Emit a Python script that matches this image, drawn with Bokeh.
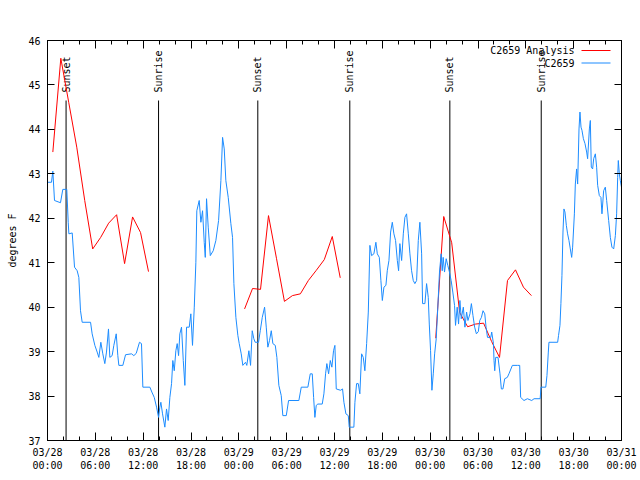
import math
from bokeh.plotting import figure
from bokeh.models import FixedTicker, LinearAxis, Label, BoxAnnotation, Range1d
from bokeh.embed import file_html
from bokeh.resources import INLINE
from bokeh.core.properties import value

FONT = "DejaVu Sans Mono"
NAN = float("nan")

# ---- data (hours since 2024-03-28 00:00 UTC) ----
obs_hours = [0.0, 0.5, 0.67, 0.88, 1.63, 1.92, 2.42, 2.60, 2.68, 3.10, 3.39, 3.72, 3.93, 4.14, 4.35, 5.40,
             5.60, 5.94, 6.23, 6.44, 6.69, 6.94, 7.19, 7.40, 7.65, 7.82, 8.11, 8.32, 8.62, 8.82, 8.95, 9.45,
             9.79, 10.54, 10.83, 11.13, 11.54, 11.79, 11.96, 12.84, 13.09, 13.39, 13.68, 13.93, 14.09, 14.22,
             14.43, 14.72, 14.93, 15.14, 15.35, 15.56, 15.72, 15.90, 16.10, 16.27, 16.44, 16.60, 16.81, 17.03,
             17.23, 17.44, 17.78, 17.98, 18.19, 18.41, 18.61, 18.73, 19.03, 19.24, 19.45, 19.66, 19.79, 19.95,
             20.16, 20.42, 20.79, 21.12, 21.46, 21.75, 21.96, 22.17, 22.37, 22.67, 23.00, 23.21, 23.38, 23.63,
             23.88, 24.05, 24.30, 24.50, 24.84, 25.00, 25.26, 25.47, 25.68, 25.88, 26.05, 26.47, 26.69, 26.94,
             27.23, 27.44, 27.64, 27.85, 28.07, 28.27, 28.57, 28.77, 29.02, 29.32, 29.52, 29.95, 30.24, 31.53,
             31.83, 32.66, 32.96, 33.21, 33.38, 33.54, 33.71, 33.91, 34.46, 34.67, 34.88, 35.04, 35.26, 35.47,
             35.67, 35.88, 36.05, 36.22, 36.76, 37.01, 37.18, 37.43, 37.73, 37.85, 38.43, 38.56, 38.77, 38.98,
             39.18, 39.40, 39.61, 39.81, 40.03, 40.24, 40.44, 40.65, 40.94, 41.19, 41.37, 41.62, 41.82, 42.00,
             42.20, 42.45, 42.62, 42.83, 43.04, 43.25, 43.45, 43.66, 43.88, 44.04, 44.20, 44.42, 44.63, 44.83,
             45.04, 45.26, 45.46, 45.67, 45.88, 46.08, 46.30, 46.51, 46.71, 46.93, 47.05, 47.34, 47.55, 47.76,
             47.89, 48.05, 48.22, 48.39, 48.56, 48.76, 48.96, 49.17, 49.38, 49.51, 49.63, 49.80, 50.01, 50.21,
             50.42, 50.63, 50.84, 51.06, 51.18, 51.39, 51.56, 51.73, 51.90, 52.16, 52.36, 52.57, 52.74, 52.99,
             53.17, 53.37, 53.58, 53.80, 54.04, 54.22, 54.43, 54.63, 54.85, 55.01, 55.19, 55.60, 55.72, 55.94,
             56.01, 56.10, 56.22, 56.51, 56.76, 56.93, 57.13, 57.35, 57.68, 57.88, 58.31, 58.94, 59.23, 59.35,
             59.77, 60.19, 60.74, 61.03, 61.80, 61.90, 62.50, 62.65, 62.82, 62.90, 63.99, 64.10, 64.28, 64.40,
             64.53, 64.66, 64.78, 64.91, 65.08, 65.24, 65.41, 65.58, 65.75, 65.87, 66.09, 66.21, 66.37, 66.50,
             66.67, 66.79, 66.92, 67.04, 67.22, 67.42, 67.63, 67.75, 67.97, 68.09, 68.21, 68.38, 68.51, 68.72,
             68.88, 69.01, 69.22, 69.42, 69.55, 69.76, 69.97, 70.14, 70.39, 70.60, 70.80, 71.02, 71.23, 71.39,
             71.52, 71.60, 71.73, 71.85, 72.0]
obs_dewpt = [42.81, 42.81, 43.06, 42.40, 42.35, 42.65, 42.65, 41.91, 41.65, 41.67, 40.90, 40.82, 40.67, 39.92, 39.66, 39.66,
             39.40, 39.14, 38.99, 38.87, 39.21, 38.95, 38.73, 38.99, 39.51, 38.87, 38.91, 39.14, 39.40, 38.91, 38.69, 38.69,
             38.93, 38.95, 38.91, 38.96, 39.21, 39.18, 38.20, 38.20, 38.09, 37.97, 37.75, 37.52, 37.75, 37.86,
             37.60, 37.30, 37.71, 37.45, 37.97, 38.28, 38.80, 38.57, 39.02, 39.18, 38.91, 39.40, 39.55, 38.80,
             38.24, 39.55, 39.55, 39.85, 39.14, 40.00, 41.01, 42.17, 42.40, 41.91, 42.17, 41.46, 41.12, 42.44,
             41.80, 41.16, 41.27, 41.50, 41.95, 42.85, 43.82, 43.56, 42.85, 42.47, 41.88, 41.57, 40.53, 39.77,
             39.36, 39.18, 38.95, 38.69, 38.76, 38.69, 39.02, 38.69, 39.47, 39.29, 39.21, 39.21, 39.47, 39.77,
             40.00, 39.55, 39.10, 39.25, 39.47, 39.18, 39.14, 38.87, 38.24, 38.01, 37.56, 37.56, 37.90, 37.90,
             38.20, 38.20, 38.50, 38.50, 37.97, 37.52, 37.79, 37.82, 37.82, 38.05, 38.50, 38.73, 38.50, 38.80,
             38.65, 39.02, 39.14, 38.16, 38.13, 38.16, 37.86, 37.60, 37.56, 37.30, 37.30, 37.86, 38.28, 38.28,
             38.05, 38.95, 38.87, 38.57, 39.18, 39.89, 41.39, 41.16, 41.20, 41.46, 41.20, 41.12, 40.60, 40.15,
             40.45, 40.49, 40.82, 41.05, 41.69, 41.91, 41.65, 41.50, 41.05, 40.82, 41.43, 41.05, 41.65, 42.02,
             42.10, 41.65, 41.20, 40.82, 40.60, 40.53, 40.60, 41.50, 41.91, 41.20, 40.08, 40.08, 40.53, 40.22,
             39.62, 39.02, 38.13, 38.50, 38.95, 39.29, 40.00, 40.79, 41.20, 40.82, 41.12, 40.79, 41.09, 40.94,
             40.79, 40.60, 40.34, 40.04, 39.59, 40.00, 39.62, 40.15, 39.74, 40.00, 39.55, 39.89, 39.70, 39.85,
             40.08, 39.81, 39.55, 39.40, 39.45, 39.70, 39.77, 39.92, 39.85, 39.55, 39.32, 39.32, 39.44, 39.18,
             38.80, 38.57, 38.87, 38.87, 38.50, 38.16, 38.16, 38.39, 38.42, 38.50, 38.69, 38.69, 38.69, 37.97,
             37.90, 37.94, 37.90, 37.94, 37.94, 38.20, 38.20, 38.46, 38.99, 39.21, 39.21, 39.36, 39.59, 40.08,
             40.71, 41.69, 42.21, 42.14, 41.84, 41.65, 41.50, 41.31, 41.12, 41.35, 42.10, 42.77, 43.11, 42.77,
             44.01, 44.39, 44.05, 43.98, 43.79, 43.68, 43.49, 43.34, 44.01, 44.20, 43.15, 43.11, 43.34, 43.45,
             43.15, 42.74, 42.51, 42.47, 42.10, 42.62, 42.70, 42.40, 41.95, 41.57, 41.35, 41.31, 41.61, 42.10,
             42.92, 43.30, 43.00, 42.85, 42.70]

ana_hours = [0.67, 1.67, 2.67, 3.67, 4.67, 5.67, 6.67, 7.67, 8.67, 9.67, 10.67, 11.67, 12.67, NAN,
             24.72, 25.72, 26.72, 27.72, 28.72, 29.72, 30.72, 31.72, 32.72, 33.72, 34.72, 35.72, 36.72, NAN,
             48.70, 49.70, 50.70, 51.70, 52.70, 53.70, 54.70, 55.70, 56.70, 57.70, 58.70, 59.70, 60.70]
ana_dewpt = [43.49, 45.60, 44.60, 43.60, 42.40, 41.31, 41.57, 41.89, 42.08, 40.98, 42.03, 41.68, 40.80, NAN,
             39.96, 40.42, 40.40, 42.06, 41.10, 40.13, 40.26, 40.30, 40.60, 40.83, 41.07, 41.59, 40.66, NAN,
             39.30, 42.04, 41.45, 39.88, 39.56, 39.62, 39.64, 39.23, 38.87, 40.60, 40.84, 40.45, 40.26]

sun_hours = [2.33, 13.93, 26.38, 37.92, 50.47, 61.93]
sun_names = ["Sunset", "Sunrise", "Sunset", "Sunrise", "Sunset", "Sunrise"]

tick_hours = [0, 6, 12, 18, 24, 30, 36, 42, 48, 54, 60, 66, 72]
tick_labels = ["03/28\n00:00", "03/28\n06:00", "03/28\n12:00", "03/28\n18:00",
               "03/29\n00:00", "03/29\n06:00", "03/29\n12:00", "03/29\n18:00",
               "03/30\n00:00", "03/30\n06:00", "03/30\n12:00", "03/30\n18:00",
               "03/31\n00:00"]
minor_hours = list(range(0, 73, 2))
y_ticks = [37, 38, 39, 40, 41, 42, 43, 44, 45, 46]

title_text = "Dew Point for C2659 on 2024-Mar-28 (time in UTC)"
ylabel_text = "degrees F"
series_names = ["C2659 Analysis", "C2659"]
RED = "#ff0000"
BLUE = "#1c8cff"

# ---- figure ----
p = figure(frame_width=574, frame_height=400, output_backend="svg", toolbar_location=None,
           x_range=Range1d(0, 72), y_range=Range1d(37, 46),
           min_border_left=47, min_border_right=19, min_border_top=40, min_border_bottom=40)
p.xgrid.visible = False
p.ygrid.visible = False
p.outline_line_color = "black"
p.outline_line_width = 1
p.background_fill_color = "white"
p.border_fill_color = "white"

xt = FixedTicker(ticks=tick_hours, minor_ticks=minor_hours)
yt = FixedTicker(ticks=y_ticks, minor_ticks=[])

def style_axis(ax, labels=True):
    ax.axis_line_color = "black"
    ax.major_tick_line_color = "black"
    ax.minor_tick_line_color = "black"
    ax.major_tick_out = 0
    ax.minor_tick_out = 0
    ax.major_label_text_font = FONT
    ax.major_label_text_color = "black"
    ax.major_label_text_font_size = "10px"
    if not labels:
        ax.major_label_overrides = {t: "" for t in ax.ticker.ticks}
        ax.major_label_standoff = 0

xa = p.xaxis[0]
xa.ticker = xt
xa.major_label_overrides = {h: l for h, l in zip(tick_hours, tick_labels)}
style_axis(xa)
xa.major_tick_in = 8
xa.minor_tick_in = 4
xa.major_label_standoff = 6

ya = p.yaxis[0]
ya.ticker = yt
style_axis(ya)
ya.major_tick_in = 7
ya.minor_tick_in = 0
ya.major_label_standoff = 7
ya.axis_label = ylabel_text
ya.axis_label_text_font = FONT
ya.axis_label_text_font_size = "10px"
ya.axis_label_text_font_style = "normal"
ya.axis_label_text_color = "black"
ya.axis_label_standoff = 7

top = LinearAxis(ticker=xt)
style_axis(top, labels=False)
top.major_tick_in = 8
top.minor_tick_in = 4
p.add_layout(top, "above")

right = LinearAxis(ticker=yt)
style_axis(right, labels=False)
right.major_tick_in = 7
right.minor_tick_in = 0
p.add_layout(right, "right")

# sunrise / sunset markers
p.segment(x0=sun_hours, y0=[37] * len(sun_hours), x1=sun_hours, y1=[44.65] * len(sun_hours),
          line_color="black", line_width=1)
p.text(x=sun_hours, y=[44.83] * len(sun_hours), text=sun_names, angle=math.pi / 2,
       text_align="left", text_baseline="middle", text_font=value(FONT),
       text_font_size="10px", text_color="black")

# data
p.line(ana_hours, ana_dewpt, line_color=RED, line_width=1)
p.line(obs_hours, obs_dewpt, line_color=BLUE, line_width=1)

# title
p.add_layout(Label(x=285, y=421, x_units="screen", y_units="screen", text=title_text,
                   text_align="center", text_baseline="middle", text_font=FONT,
                   text_font_size="10px", text_color="black"))

# legend (gnuplot style: text then line sample)
for i, (name, col) in enumerate(zip(series_names, [RED, BLUE])):
    yy = 390 - 12.5 * i
    p.add_layout(Label(x=527, y=yy, x_units="screen", y_units="screen", text=name,
                       text_align="right", text_baseline="middle", text_font=FONT,
                       text_font_size="10px", text_color="black"))
    p.add_layout(BoxAnnotation(left=534, right=563, bottom=yy - 0.5, top=yy + 0.5,
                               left_units="screen", right_units="screen",
                               bottom_units="screen", top_units="screen",
                               fill_color=col, fill_alpha=1, line_alpha=0))

open("out.html", "w").write(file_html(p, INLINE))
